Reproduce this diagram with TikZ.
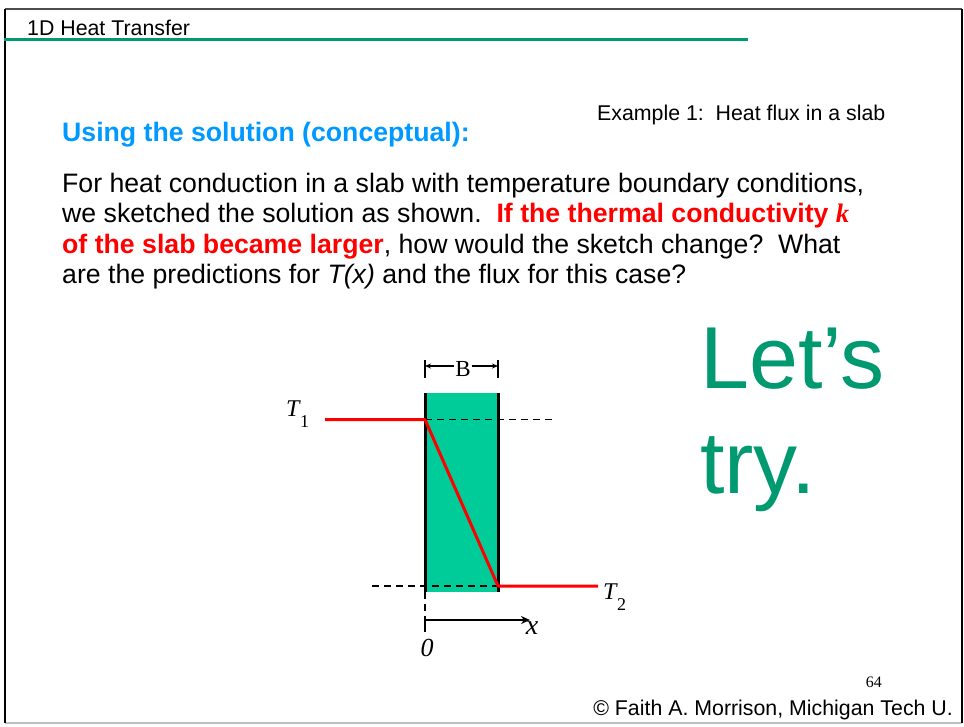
\documentclass[tikz,border=0pt]{standalone}
\usepackage{fontspec}
\setmainfont{Liberation Sans}
\newfontfamily\serifx{Liberation Serif}
\usetikzlibrary{arrows.meta}
\definecolor{slabgreen}{RGB}{0,204,153}
\definecolor{darkgreen}{RGB}{0,153,112}
\definecolor{titleblue}{RGB}{0,153,255}
\definecolor{hotred}{RGB}{255,0,0}
\newcommand{\tlabel}[1]{{\serifx\itshape T}\kern0.5pt\raisebox{-11pt}{\serifx\fontsize{18}{20}\selectfont #1}}
\begin{document}
\begin{tikzpicture}[x=1pt,y=-1pt,
  txt/.style={anchor=base west,inner sep=0pt},
  body/.style={txt,font=\fontsize{26.67}{32}\selectfont},
  edge/.style={line width=3pt,black},
  redline/.style={line width=3pt,hotred},
  dashline/.style={line width=1.8pt,dash pattern=on 7pt off 5pt},
  mathlbl/.style={inner sep=0pt,font=\fontsize{24}{28}\selectfont}]
\useasboundingbox (0,0) rectangle (964,726);
% frame
\draw[line width=2pt,gray!60!black] (5,9) -- (962,9);
\draw[line width=1.5pt,gray!50] (5,723) -- (962,723);
\draw[line width=2.5pt] (5,9) -- (5,723);
\draw[line width=2.5pt] (962,9) -- (962,723);
% header
\node[txt,font=\fontsize{21.33}{25}\selectfont] (title) at (27,35) {1D Heat Transfer};
\draw[darkgreen,line width=3pt] (4,39) -- (748,39);
\node[txt,font=\fontsize{21.33}{25}\selectfont] (ex) at (597,120) {Example 1:\ \ Heat flux in a slab};
\node[txt,font=\bfseries\fontsize{26.67}{32}\selectfont,text=titleblue] (using) at (62,141) {Using the solution (conceptual):};
% body text
\node[body] (l1) at (62,192) {For heat conduction in a slab with temperature boundary conditions,};
\node[body] (l2) at (62,222.5) {we sketched the solution as shown.\ \ {\color{hotred}\bfseries If the thermal conductivity {\serifx\itshape k}}};
\node[body] (l3) at (62,253) {{\color{hotred}\bfseries of the slab became larger}, how would the sketch change?\ \ What};
\node[body] (l4) at (62,283.5) {are the predictions for \textit{T(x)} and the flux for this case?};
% Let's try
\node[txt,font=\fontsize{88}{105}\selectfont,text=darkgreen] (lets) at (700,388) {Let’s};
\node[txt,font=\fontsize{88}{105}\selectfont,text=darkgreen] (try) at (700,493) {try.};
% slab
\node[fill=slabgreen,inner sep=0pt,minimum width=73pt,minimum height=199pt,anchor=north west] (slab) at (425,393) {};
\coordinate (p1) at (425,419.5);
\coordinate (p2) at (498,586);
\coordinate (t1s) at (325,419.5);
\coordinate (t2e) at (598,586);
\coordinate (d1e) at (552,419.5);
\coordinate (d2s) at (372,586);
\draw[dashline] (p1) -- (d1e);
\draw[dashline] (d2s) -- (p2);
\draw[edge] (slab.north west) -- (slab.south west);
\draw[edge] (slab.north east) -- (slab.south east);
\draw[redline,line join=round] (t1s) -- (p1) -- (p2) -- (t2e);
% axis
\coordinate (o) at (425,620);
\coordinate (xe) at (530,620);
\coordinate (ot) at (425,632);
\draw[dashline] (slab.south west) -- (o);
\draw[line width=2.5pt,-{Stealth[length=9pt,width=8pt]}] (o) -- (xe);
\draw[line width=2.5pt] (o) -- (ot);
% B dimension
\coordinate (bl1) at (425,360); \coordinate (bl2) at (425,378);
\coordinate (br1) at (498,360); \coordinate (br2) at (498,378);
\draw[line width=1.5pt] (bl1) -- (bl2);
\draw[line width=1.5pt] (br1) -- (br2);
\node[inner sep=1pt,font=\serifx\fontsize{23}{26}\selectfont] (B) at (463,369) {B};
\draw[line width=1.3pt,-{Stealth[length=6pt,width=5pt]}] (B.west |- 0,366) -- (425,366);
\draw[line width=1.3pt,-{Stealth[length=6pt,width=5pt]}] (B.east |- 0,366) -- (498,366);
% labels
\node[mathlbl,anchor=base west] (T1) at (286,416) {\tlabel{1}};
\node[mathlbl,anchor=base west] (T2) at (603,599) {\tlabel{2}};
\node[inner sep=0pt,font=\serifx\itshape\fontsize{28}{30}\selectfont] (xl) at (532,628) {x};
\node[inner sep=0pt,font=\serifx\itshape\fontsize{26}{30}\selectfont] (zero) at (427,648) {0};
% footer
\node[txt,anchor=base east,font=\serifx\fontsize{16}{19}\selectfont] (pg) at (882,687) {64};
\node[txt,anchor=base east,font=\fontsize{21.33}{25}\selectfont] (copy) at (953,715) {© Faith A. Morrison, Michigan Tech U.};
\end{tikzpicture}
\end{document}
